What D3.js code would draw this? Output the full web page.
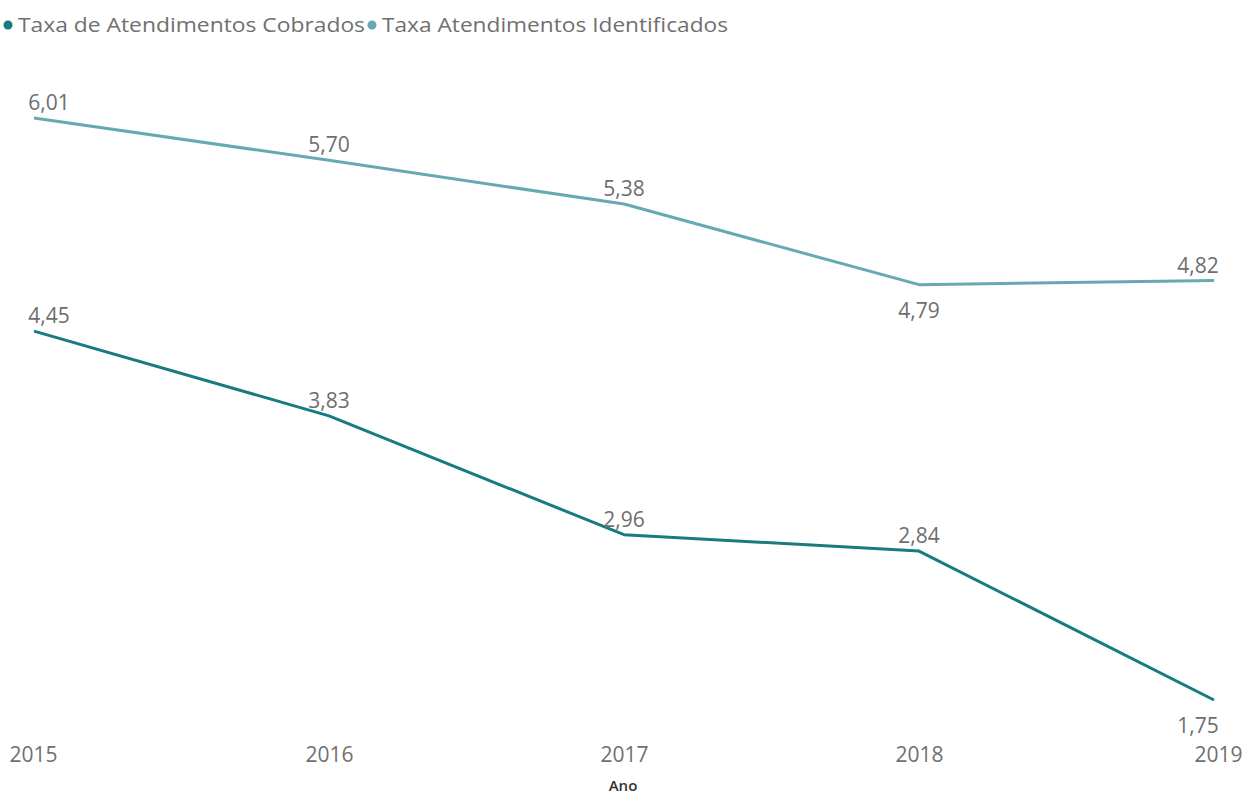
<!DOCTYPE html>
<html><head><meta charset="utf-8">
<script src="https://cdn.jsdelivr.net/npm/d3@7"></script>
<style>
body{margin:0;background:#fff;}
text{font-family:"Segoe UI","Open Sans","Noto Sans",sans-serif;}
</style></head>
<body><svg id="c" width="1245" height="794"></svg>
<script>
const years = ["2015","2016","2017","2018","2019"];
const cobrados = [4.45, 3.83, 2.96, 2.84, 1.75];
const identificados = [6.01, 5.70, 5.38, 4.79, 4.82];
const seriesNames = ["Taxa de Atendimentos Cobrados","Taxa Atendimentos Identificados"];
const colors = ["#177c7e","#67a9b3"];
const labelBelow = [[false,false,false,false,true],[false,false,false,true,false]];

const svg = d3.select("#c");
const fmt = v => d3.format(".2f")(v).replace(".", ",");

const x = d3.scalePoint().domain(years).range([34, 1214]);
const all = cobrados.concat(identificados);
const y = d3.scaleLinear().domain([d3.min(all), d3.max(all)]).range([700, 118]);

// legend
const leg = svg.append("g");
const legX = [8, 372], legW = [347, 346];
seriesNames.forEach((n,i)=>{
  leg.append("circle").attr("cx", legX[i]).attr("cy", 25).attr("r", 4.5).attr("fill", colors[i]);
  leg.append("text").attr("x", legX[i]+10).attr("y", 32).attr("font-size", 20).attr("fill","#707070")
    .attr("textLength", legW[i]).attr("lengthAdjust","spacingAndGlyphs").text(n);
});

// x axis
const xa = svg.append("g").attr("transform","translate(0,762)")
  .call(d3.axisBottom(x).tickSize(0).tickPadding(0));
xa.select(".domain").remove();
xa.selectAll("text").attr("font-size",21).attr("fill","#707070").attr("dy","0")
  .attr("font-family",'"Segoe UI","Open Sans","Noto Sans",sans-serif')
  .attr("text-anchor", (d,i)=> i===0 ? "start" : (i===years.length-1 ? "end" : "middle"))
  .attr("dx", (d,i)=> i===0 ? -25 : (i===years.length-1 ? 28 : 0));
svg.append("text").attr("x", 623).attr("y", 791).attr("text-anchor","middle")
  .attr("font-size",15).attr("font-weight",600).attr("fill","#333").text("Ano");

const line = d3.line().x((d,i)=>x(years[i])).y(d=>y(d));
[cobrados, identificados].forEach((s,si)=>{
  svg.append("path").datum(s).attr("d", line).attr("fill","none")
    .attr("stroke", colors[si]).attr("stroke-width", 3).attr("stroke-linejoin","round");
  svg.append("g").selectAll("text").data(s).join("text")
    .attr("x",(d,i)=>{ const px=x(years[i]); return Math.min(Math.max(px, 49), 1198); })
    .attr("y",(d,i)=> labelBelow[si][i] ? y(d)+33 : y(d)-8)
    .attr("text-anchor","middle").attr("font-size",21).attr("fill","#6e6e6e")
    .text(d=>fmt(d));
});
</script></body></html>
